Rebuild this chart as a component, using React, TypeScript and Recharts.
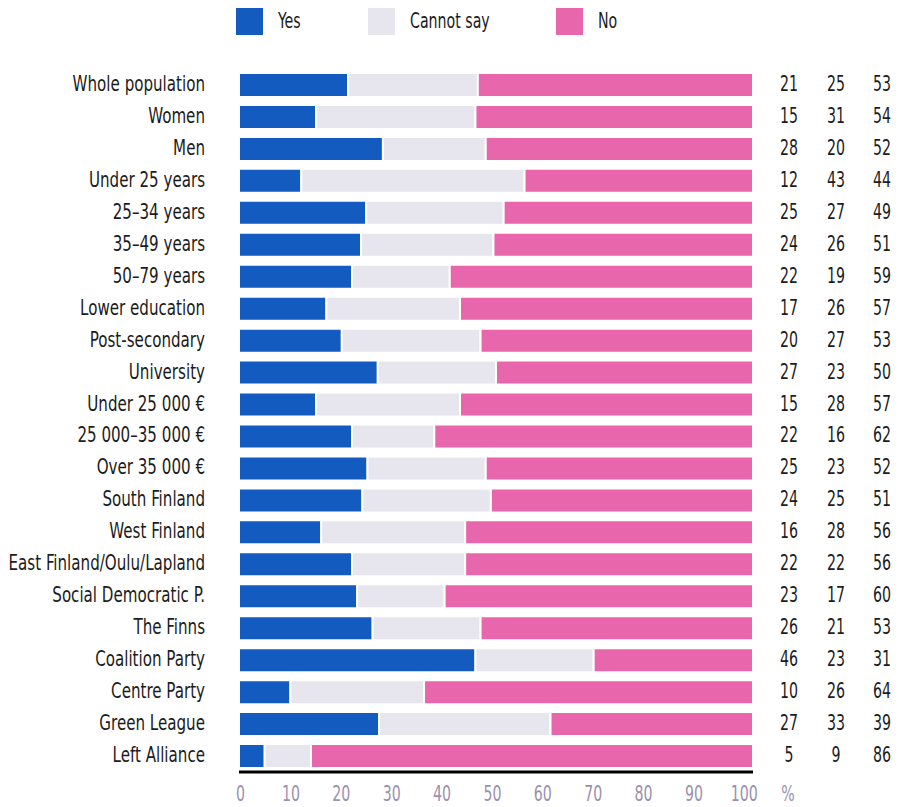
import React from 'react';
import { BarChart, Bar, XAxis, YAxis, Legend } from 'recharts';

const categories = [
  'Whole population', 'Women', 'Men', 'Under 25 years', '25–34 years', '35–49 years',
  '50–79 years', 'Lower education', 'Post-secondary', 'University', 'Under 25 000 €',
  '25 000–35 000 €', 'Over 35 000 €', 'South Finland', 'West Finland',
  'East Finland/Oulu/Lapland', 'Social Democratic P.', 'The Finns', 'Coalition Party',
  'Centre Party', 'Green League', 'Left Alliance',
];
const yesValues = [21, 15, 28, 12, 25, 24, 22, 17, 20, 27, 15, 22, 25, 24, 16, 22, 23, 26, 46, 10, 27, 5];
const cannotSayValues = [25, 31, 20, 43, 27, 26, 19, 26, 27, 23, 28, 16, 23, 25, 28, 22, 17, 21, 23, 26, 33, 9];
const noValues = [53, 54, 52, 44, 49, 51, 59, 57, 53, 50, 57, 62, 52, 51, 56, 56, 60, 53, 31, 64, 39, 86];
const xTicks = [0, 10, 20, 30, 40, 50, 60, 70, 80, 90, 100];

const seriesNames = ['Yes', 'Cannot say', 'No'];
const colors = ['#135bbf', '#e7e5ed', '#e866ac'];

const data = categories.map((c, i) => ({
  label: c,
  yes: yesValues[i],
  cannot: cannotSayValues[i],
  no: noValues[i],
}));

const FONT = "'DejaVu Sans Condensed', 'Liberation Sans Narrow', sans-serif";
const TEXT = '#1c1c1c';
const TICK = '#9b90ae';
const LABEL_SX = 0.8;
const NUM_SX = 0.75;

const SText = ({ x, y, anchor, sx, fill, children }: any) => (
  <text
    transform={`translate(${x},${y}) scale(${sx},1)`}
    textAnchor={anchor}
    fontFamily={FONT}
    fontSize={21}
    fill={fill}
  >
    {children}
  </text>
);

const LeftTick = (props: any) => {
  const { y, payload } = props;
  return (
    <SText x={205} y={y + 6} anchor="end" sx={LABEL_SX} fill={TEXT}>
      {payload.value}
    </SText>
  );
};

const RightTick = (props: any) => {
  const { y, payload } = props;
  const i = payload.index;
  const vals = [yesValues[i], cannotSayValues[i], noValues[i]];
  const xs = [789, 836, 882];
  return (
    <g>
      {vals.map((v, k) => (
        <SText key={k} x={xs[k]} y={y + 6} anchor="middle" sx={NUM_SX} fill={TEXT}>
          {v}
        </SText>
      ))}
    </g>
  );
};

// tick labels in the reference are slightly compressed relative to the bar scale
const BottomTick = (props: any) => {
  const { x, payload } = props;
  const v = payload.value;
  const dx = 1.5 - 10.2 * v;
  return (
    <SText x={x + dx} y={801} anchor="middle" sx={NUM_SX} fill={TICK}>
      {Math.round(v * 100)}
    </SText>
  );
};

const legendLefts = [236, 368, 556];

const renderLegend = (props: any) => {
  const payload = [...(props.payload || [])].sort(
    (a: any, b: any) => seriesNames.indexOf(a.value) - seriesNames.indexOf(b.value)
  );
  return (
    <div style={{ position: 'relative', width: 898, height: 45, fontFamily: FONT, fontSize: 21, color: TEXT }}>
      {payload.map((p: any, i: number) => (
        <div key={i} style={{ position: 'absolute', left: legendLefts[i], top: 8, display: 'flex', alignItems: 'center', height: 27 }}>
          <div style={{ width: 27, height: 27, background: p.color }} />
          <span
            style={{
              marginLeft: 15,
              lineHeight: '27px',
              display: 'inline-block',
              transform: `scale(${NUM_SX},1)`,
              transformOrigin: 'left center',
              whiteSpace: 'nowrap',
            }}
          >
            {p.value}
          </span>
        </div>
      ))}
    </div>
  );
};

export default function App() {
  return (
    <div style={{ position: 'absolute', left: 0, top: 0, width: 898, height: 807, background: '#fff', overflow: 'hidden' }}>
      <BarChart
        width={898}
        height={807}
        data={data}
        layout="vertical"
        stackOffset="expand"
        barCategoryGap={0}
        margin={{ top: 69, right: 0, bottom: 0, left: 0 }}
      >
        <XAxis
          type="number"
          domain={[0, 1]}
          ticks={xTicks.map((t) => t / 100)}
          interval={0}
          tickLine={false}
          axisLine={{ stroke: '#000', strokeWidth: 3 }}
          tick={<BottomTick />}
          height={35}
          label={() => (
            <SText x={788} y={801} anchor="middle" sx={NUM_SX} fill={TICK}>%</SText>
          )}
        />
        <YAxis
          type="category"
          dataKey="label"
          yAxisId="left"
          width={239}
          tickLine={false}
          axisLine={false}
          interval={0}
          tick={<LeftTick />}
        />
        <YAxis
          type="category"
          dataKey="label"
          yAxisId="right"
          orientation="right"
          width={145}
          tickLine={false}
          axisLine={false}
          interval={0}
          tick={<RightTick />}
        />
        <Legend
          layout="horizontal"
          verticalAlign="middle"
          align="center"
          content={renderLegend}
          wrapperStyle={{ position: 'absolute', top: 0, left: 0, width: 898, height: 45 }}
        />
        <Bar dataKey="yes" name={seriesNames[0]} stackId="a" yAxisId="left" fill={colors[0]} stroke="#fff" strokeWidth={2} barSize={24} isAnimationActive={false} />
        <Bar dataKey="cannot" name={seriesNames[1]} stackId="a" yAxisId="left" fill={colors[1]} stroke="#fff" strokeWidth={2} barSize={24} isAnimationActive={false} />
        <Bar dataKey="no" name={seriesNames[2]} stackId="a" yAxisId="left" fill={colors[2]} stroke="#fff" strokeWidth={2} barSize={24} isAnimationActive={false} />
      </BarChart>
    </div>
  );
}
